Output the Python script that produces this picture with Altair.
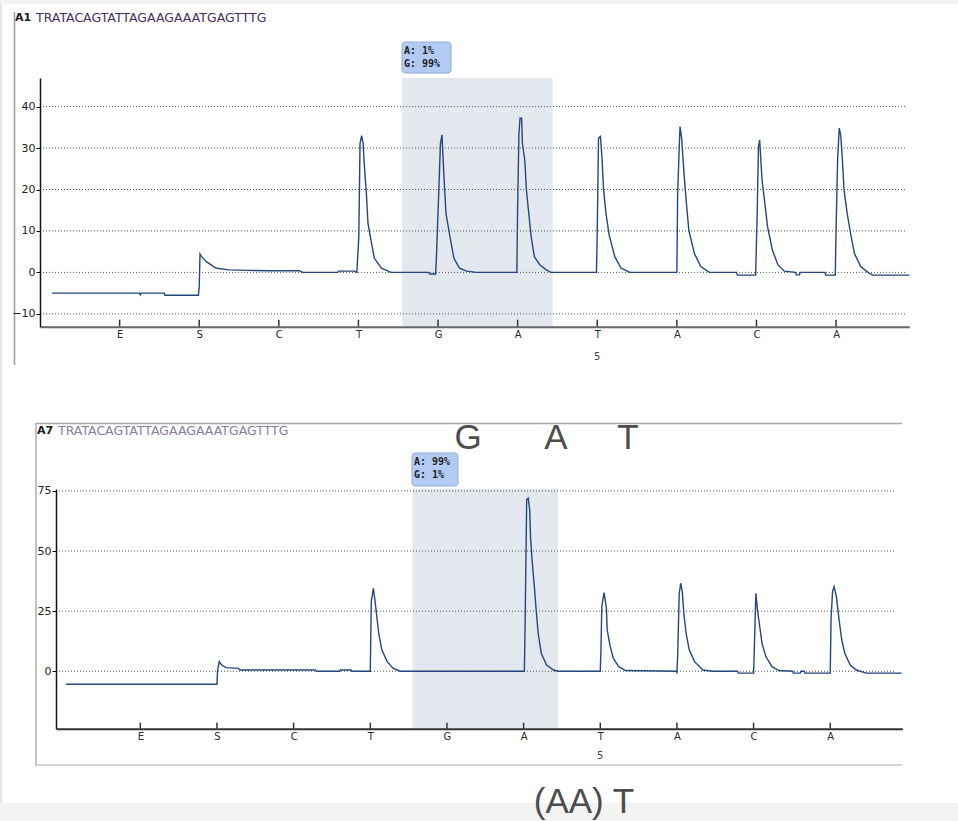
import altair as alt
import pandas as pd

W, H = 958, 821

# ---------------- data ----------------
dispensation = ["E", "S", "C", "T", "G", "A", "T", "A", "C", "A"]
positions = [1, 2, 3, 4, 5, 6, 7, 8, 9, 10]
sub_label_pos = [7]
sub_label_text = ["5"]

p1_yticks = [40, 30, 20, 10, 0, -10]
p2_yticks = [75, 50, 25, 0]

p1_well, p2_well = "A1", "A7"
sequence = "TRATACAGTATTAGAAGAAATGAGTTTG"
p1_box = ["A: 1%", "G: 99%"]
p2_box = ["A: 99%", "G: 1%"]
p1_shade = [4.55, 6.44]
p2_shade = [4.55, 6.45]
big_top = ["G", "A", "T"]
big_bottom = ["(AA) T"]

# panel 1 trace (A1), x in dispensation units, y in signal units
p1_pre = [(0.15, -5.0), (1.25, -5.0), (1.26, -5.4), (1.27, -5.0), (1.56, -5.0),
          (1.57, -5.5), (1.99, -5.5)]
p1_S = [(2.00, -3.5), (2.01, 4.4), (2.03, 3.8), (2.09, 2.6), (2.18, 1.4), (2.22, 1.0),
        (2.37, 0.6), (2.6, 0.5), (2.9, 0.4), (3.26, 0.4), (3.3, 0.0), (3.74, 0.0),
        (3.75, 0.3), (3.95, 0.3), (3.98, 0.0)]
p1_T4 = [(4.005, 8.6), (4.02, 31.0), (4.04, 33.0), (4.06, 31.0), (4.07, 27.0), (4.10, 19.0),
         (4.12, 11.8), (4.15, 8.6), (4.20, 3.4), (4.29, 1.0), (4.41, 0.0), (4.88, 0.0),
         (4.90, -0.4), (4.97, -0.4)]
p1_G5 = [(4.98, 3.8), (5.01, 19.9), (5.03, 31.0), (5.05, 33.2), (5.07, 24.7), (5.10, 14.2),
         (5.15, 8.6), (5.20, 3.4), (5.27, 1.0), (5.36, 0.3), (5.48, 0.0), (5.99, 0.0)]
p1_A6 = [(6.00, 15.8), (6.016, 33.2), (6.03, 37.2), (6.05, 37.2), (6.06, 31.1), (6.09, 27.0),
         (6.11, 19.9), (6.14, 14.2), (6.17, 8.6), (6.21, 3.8), (6.28, 1.8), (6.36, 0.6),
         (6.42, 0.0), (6.99, 0.0)]
p1_T7 = [(7.00, 9.8), (7.016, 32.4), (7.04, 32.8), (7.06, 27.5), (7.08, 19.9), (7.11, 14.2),
         (7.15, 9.0), (7.22, 3.8), (7.30, 1.0), (7.41, 0.0), (8.0, 0.0)]
p1_A8 = [(8.01, 19.0), (8.03, 30.3), (8.04, 35.2), (8.06, 32.4), (8.09, 23.9), (8.12, 16.7),
         (8.15, 10.2), (8.22, 4.6), (8.30, 1.4), (8.41, 0.0), (8.75, 0.0), (8.76, -0.65),
         (8.99, -0.65)]
p1_C9 = [(9.01, 15.0), (9.025, 30.3), (9.04, 32.0), (9.07, 22.3), (9.10, 17.5), (9.14, 11.0),
         (9.20, 5.4), (9.27, 1.8), (9.35, 0.3), (9.49, 0.0), (9.50, -0.6), (9.54, -0.6),
         (9.55, 0.0), (9.86, 0.0), (9.87, -0.65), (9.99, -0.65)]
p1_A10 = [(10.0, 10.2), (10.02, 27.5), (10.04, 34.8), (10.06, 32.8), (10.08, 27.1),
          (10.10, 19.9), (10.14, 14.2), (10.19, 8.6), (10.23, 4.6), (10.31, 1.4),
          (10.40, 0.0), (10.46, -0.65), (10.92, -0.65)]

# panel 2 trace (A7)
p2_pre = [(0.03, -5.4), (2.0, -5.4)]
p2_S = [(2.008, 0.5), (2.03, 4.0), (2.06, 2.6), (2.12, 1.5), (2.28, 1.2), (2.30, 0.5),
        (3.28, 0.5), (3.30, 0.0), (3.60, 0.0), (3.61, 0.5), (3.75, 0.5), (3.76, 0.0),
        (4.0, 0.0)]
p2_T4 = [(4.013, 29.0), (4.04, 34.5), (4.06, 29.7), (4.09, 21.3), (4.11, 15.8), (4.15, 8.9),
         (4.22, 4.0), (4.30, 1.2), (4.39, 0.0), (6.01, 0.0)]
p2_A6 = [(6.02, 20.6), (6.04, 71.3), (6.06, 72.0), (6.08, 67.0), (6.09, 56.0), (6.11, 46.3),
         (6.14, 35.2), (6.16, 26.9), (6.19, 15.8), (6.23, 7.5), (6.30, 2.6), (6.39, 0.5),
         (6.45, 0.0), (7.0, 0.0)]
p2_T7 = [(7.01, 10.2), (7.02, 26.9), (7.05, 32.7), (7.08, 26.2), (7.09, 17.2), (7.13, 10.2),
         (7.17, 5.4), (7.24, 1.9), (7.33, 0.3), (7.99, 0.0)]
p2_A8 = [(8.0, -0.5), (8.01, 6.8), (8.03, 32.4), (8.05, 36.6), (8.07, 33.1), (8.09, 24.1),
         (8.12, 15.8), (8.16, 8.9), (8.23, 4.0), (8.34, 0.5), (8.47, 0.0), (8.79, 0.0),
         (8.80, -0.8), (9.0, -0.8)]
p2_C9 = [(9.01, 9.6), (9.03, 32.4), (9.05, 25.5), (9.08, 18.6), (9.11, 11.6), (9.16, 6.1),
         (9.24, 1.9), (9.33, 0.3), (9.51, 0.0), (9.52, -0.8), (9.61, -0.8), (9.62, 0.0),
         (9.66, 0.0), (9.67, -0.8), (10.0, -0.8)]
p2_A10 = [(10.01, 21.3), (10.03, 33.1), (10.05, 35.2), (10.08, 31.1), (10.11, 22.7),
          (10.15, 13.0), (10.19, 7.5), (10.26, 2.6), (10.34, 0.5), (10.47, -0.8),
          (10.93, -0.8)]

# ---------------- styling ----------------
LINE = "#24477d"
SHADE = "#e3e8ef"
GRID = "#555555"
FONT = "DejaVu Sans"
labels_expr = "[" + ",".join("'%s'" % d for d in dispensation) + "][datum.value-1]"


def trace_df(*segs):
    pts = [p for s in segs for p in s]
    return pd.DataFrame({"x": [p[0] for p in pts], "y": [p[1] for p in pts],
                         "i": list(range(len(pts)))})


def panel(trace, xdom, xrng, ydom, yrng, yticks, shade, xcolor, ytick_len_px,
          grid_x, sub_y, box_text, box_px, well, seq_color, title_px):
    ppu = (yrng[0] - yrng[1]) / (ydom[1] - ydom[0])

    def xs():
        return alt.Scale(domain=xdom, range=xrng, nice=False, zero=False)

    def ys():
        return alt.Scale(domain=ydom, range=yrng, nice=False, zero=False)

    shade_l = alt.Chart(pd.DataFrame({"a": [shade[0]], "b": [shade[1]]})).mark_rect(
        color=SHADE).encode(
        x=alt.X("a:Q", scale=xs(), axis=None), x2="b:Q",
        y=alt.YDatum(ydom[0], scale=ys(), axis=None), y2=alt.Y2Datum(ydom[1]))

    grid_l = alt.Chart(pd.DataFrame({"v": yticks})).mark_rule(
        color=GRID, strokeDash=[1, 2], strokeWidth=1).encode(
        y=alt.Y("v:Q", scale=ys(), axis=None),
        x=alt.XDatum(grid_x[0], scale=xs(), axis=None),
        x2=alt.X2Datum(grid_x[1]))

    line_l = alt.Chart(trace).mark_line(color=LINE, strokeWidth=1.4).encode(
        x=alt.X("x:Q", scale=xs(), axis=alt.Axis(
            orient="bottom", offset=yrng[0] - H, values=positions, labelExpr=labels_expr,
            ticks=False, grid=False, domainColor=xcolor, domainWidth=2, title=None,
            labelFont=FONT, labelFontSize=10, labelColor="#2b2b2b", labelPadding=3,
            labelFlush=False, labelOverlap=False, zindex=2)),
        y=alt.Y("y:Q", scale=ys(), axis=alt.Axis(
            orient="left", offset=-xrng[0], values=yticks, format="d", tickSize=4,
            tickColor="#111", tickWidth=1, domainColor="#111", domainWidth=1.5, grid=False,
            title=None, labelFont=FONT, labelFontSize=11, labelColor="#222222",
            labelPadding=1, labelOverlap=False, zindex=2)),
        order="i:Q")

    tick_l = alt.Chart(pd.DataFrame({"p": positions})).mark_rule(
        color="#333", strokeWidth=1.5).encode(
        x=alt.X("p:Q", scale=xs(), axis=None),
        y=alt.YDatum(ydom[0], scale=ys(), axis=None),
        y2=alt.Y2Datum(ydom[0] + ytick_len_px / ppu))

    sub_l = alt.Chart(pd.DataFrame({"p": sub_label_pos, "t": sub_label_text})).mark_text(
        font=FONT, fontSize=10, color="#444").encode(
        x=alt.X("p:Q", scale=xs(), axis=None), y=alt.value(sub_y), text="t:N")

    bx0, by0, bx1, by1 = box_px
    box_l = alt.Chart(pd.DataFrame({"k": [0]})).mark_rect(
        fill="#b3cbf3", stroke="#8fabdb", strokeWidth=1, cornerRadius=3).encode(
        x=alt.value(bx0), x2=alt.value(bx1), y=alt.value(by0), y2=alt.value(by1))
    boxt1 = alt.Chart(pd.DataFrame({"t": [box_text[0]]})).mark_text(
        font="DejaVu Sans Mono", fontSize=10, fontWeight="bold", color="#222",
        align="left", baseline="alphabetic").encode(
        x=alt.value(bx0 + 2), y=alt.value(by0 + 12), text="t:N")
    boxt2 = alt.Chart(pd.DataFrame({"t": [box_text[1]]})).mark_text(
        font="DejaVu Sans Mono", fontSize=10, fontWeight="bold", color="#222",
        align="left", baseline="alphabetic").encode(
        x=alt.value(bx0 + 2), y=alt.value(by0 + 25), text="t:N")

    tx, ty = title_px
    well_l = alt.Chart(pd.DataFrame({"t": [well]})).mark_text(
        font=FONT, fontSize=11, fontWeight="bold", color="#1a1a1a", align="left").encode(
        x=alt.value(tx), y=alt.value(ty), text="t:N")
    seq_l = alt.Chart(pd.DataFrame({"t": [sequence]})).mark_text(
        font=FONT, fontSize=12.5, color=seq_color, align="left").encode(
        x=alt.value(tx + 21), y=alt.value(ty), text="t:N")

    return [shade_l, grid_l, line_l, tick_l, sub_l, box_l, boxt1, boxt2, well_l, seq_l]


p1 = panel(trace_df(p1_pre, p1_S, p1_T4, p1_G5, p1_A6, p1_T7, p1_A8, p1_C9, p1_A10),
           [0.0, 10.92], [40, 909.3], [-13.1, 46.9], [326.7, 78], p1_yticks, p1_shade,
           "#666666", 7, [0.0, 10.88], 357, p1_box, (402, 42, 451, 73), p1_well,
           "#4a2f63", (15, 18))
p2 = panel(trace_df(p2_pre, p2_S, p2_T4, p2_A6, p2_T7, p2_A8, p2_C9, p2_A10),
           [-0.1, 10.94], [56, 902.3], [-23.9, 75.8], [728.7, 489], p2_yticks, p2_shade,
           "#333333", 6, [-0.1, 10.85], 756, p2_box, (412, 453, 458, 486), p2_well,
           "#8a7c9c", (37, 431))

one = pd.DataFrame({"k": [0]})
bg_top = alt.Chart(one).mark_rect(color="#f3f3f3").encode(
    x=alt.value(0), x2=alt.value(W), y=alt.value(0), y2=alt.value(4))
bg_bot = alt.Chart(one).mark_rect(color="#f3f3f3").encode(
    x=alt.value(0), x2=alt.value(W), y=alt.value(803), y2=alt.value(H))
bg_left = alt.Chart(one).mark_rule(color="#e6e6e6", strokeWidth=2).encode(
    x=alt.value(1), y=alt.value(4), y2=alt.value(803))
p1_border = alt.Chart(one).mark_rule(color="#9a9a9a", strokeWidth=1.5).encode(
    x=alt.value(14.5), y=alt.value(12), y2=alt.value(365))
p2_top = alt.Chart(one).mark_rule(color="#a8a8a8", strokeWidth=1.5).encode(
    x=alt.value(36), x2=alt.value(902), y=alt.value(423.5))
p2_left = alt.Chart(one).mark_rule(color="#b0aca8", strokeWidth=1.5).encode(
    x=alt.value(36), y=alt.value(423), y2=alt.value(766))
p2_bot = alt.Chart(one).mark_rule(color="#d8d4d0", strokeWidth=2).encode(
    x=alt.value(36), x2=alt.value(902), y=alt.value(765))

big1 = alt.Chart(pd.DataFrame({"t": big_top, "px": [468, 556, 628]})).mark_text(
    font="Liberation Sans", fontSize=35, color="#4d4d4d", baseline="alphabetic").encode(
    x=alt.X("px:Q", scale=None, axis=None), y=alt.value(449), text="t:N")
big2 = alt.Chart(pd.DataFrame({"t": big_bottom})).mark_text(
    font="Liberation Sans", fontSize=35, color="#4d4d4d", baseline="alphabetic").encode(
    x=alt.value(584), y=alt.value(813), text="t:N")

chart = alt.layer(bg_top, bg_bot, bg_left, p1_border, p2_top, p2_left, p2_bot,
                  *p1, *p2, big1, big2).resolve_scale(
    x="independent", y="independent").properties(
    width=W, height=H, padding=0, autosize=alt.AutoSizeParams(type="none"),
    background="white").configure_view(stroke=None)

chart.save("out.html", embed_options={"renderer": "svg", "actions": False})
